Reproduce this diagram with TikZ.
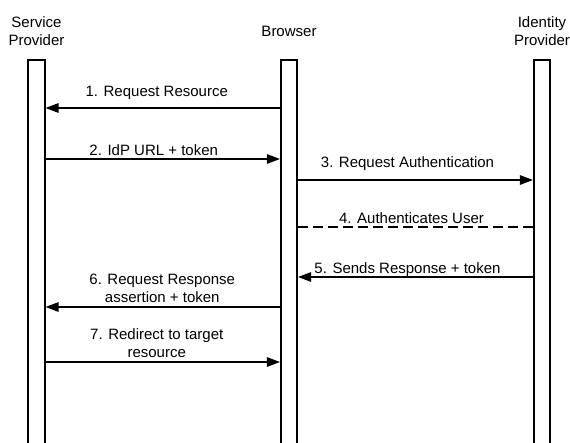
\documentclass[tikz,border=0pt]{standalone}
\usepackage{fontspec}
\setmainfont{Liberation Sans}
\usetikzlibrary{arrows.meta,calc}

\begin{document}
\begin{tikzpicture}[x=1pt,y=-1pt,
  lifeline/.style={draw=black,line width=1.6pt,fill=white,minimum width=16.5pt,
    minimum height=420pt,anchor=north,inner sep=0pt},
  head/.style={font=\fontsize{15}{18}\selectfont,align=center},
  msg/.style={line width=1.3pt,-{Triangle[length=13pt,width=9.5pt]}},
  selfcall/.style={line width=1.3pt,dash pattern=on 10pt off 5pt},
  lbl/.style={font=\fontsize{15}{18}\selectfont,anchor=base,inner sep=0pt},
  lbltwo/.style={font=\fontsize{15}{18}\selectfont,align=center,anchor=south,inner sep=0pt}]
  \useasboundingbox (0,0) rectangle (570,442);
  \clip (0,0) rectangle (570,442);
  % Lifelines
  \node[lifeline] (sp) at (36.5,59) {};
  \node[lifeline] (br) at (289,59) {};
  \node[lifeline] (idp) at (542,59) {};
  % Headers
  \node[head] (sphead) at ([yshift=27.5pt]sp.north) {Service\\Provider};
  \node[head] (brhead) at ([yshift=27.5pt]br.north) {Browser};
  \node[head] (idphead) at ([yshift=27.5pt]idp.north) {Identity\\Provider};
  % Message levels
  \coordinate (m1) at (0,108);
  \coordinate (m2) at (0,159);
  \coordinate (m3) at (0,180);
  \coordinate (m4) at (0,227);
  \coordinate (m5) at (0,277);
  \coordinate (m6) at (0,307);
  \coordinate (m7) at (0,362);
  % Messages
  \draw[msg] (br.west |- m1) -- (sp.east |- m1)
    node[lbl,midway,xshift=-6pt,yshift=12pt] {1. Request Resource};
  \draw[msg] (sp.east |- m2) -- (br.west |- m2)
    node[lbl,midway,xshift=-9pt,yshift=3.5pt] {2. IdP URL + token};
  \draw[msg] (br.east |- m3) -- (idp.west |- m3)
    node[lbl,midway,xshift=-8pt,yshift=13pt] {3. Request Authentication};
  \draw[selfcall] (br.east |- m4) -- (idp.west |- m4)
    node[lbl,midway,xshift=-4pt,yshift=4pt] {4. Authenticates User};
  \draw[msg] (idp.west |- m5) -- (br.east |- m5)
    node[lbl,midway,xshift=-8pt,yshift=4pt] {5. Sends Response + token};
  \draw[msg] (br.west |- m6) -- (sp.east |- m6)
    node[lbltwo,midway,xshift=-0.5pt,yshift=4pt] {6. Request Response\\assertion + token};
  \draw[msg] (sp.east |- m7) -- (br.west |- m7)
    node[lbltwo,midway,xshift=-6pt,yshift=4pt] {7. Redirect to target\\resource};
\end{tikzpicture}
\end{document}
